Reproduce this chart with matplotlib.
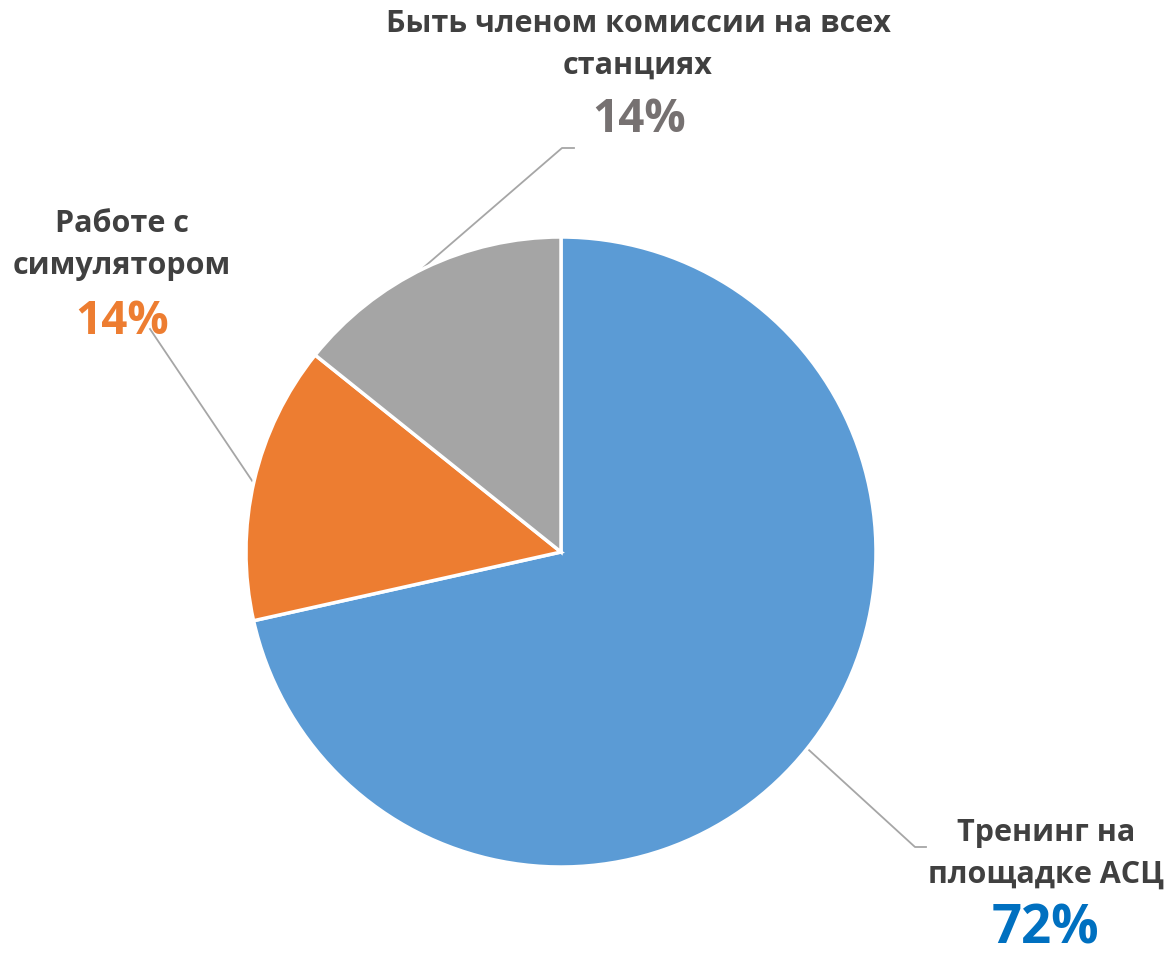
import numpy as np
import matplotlib
matplotlib.use("Agg")
import matplotlib.pyplot as plt

plt.rcParams["font.family"] = ["Open Sans", "DejaVu Sans"]

# ---------------- Data ----------------
categories = ["Тренинг на\nплощадке АСЦ", "Работе с\nсимулятором", "Быть членом комиссии на всех\nстанциях"]
shares = [71.5, 14.25, 14.25]          # slice sizes
pct_labels = ["72%", "14%", "14%"]     # labels as printed

# ---------------- Style ----------------
slice_colors = ["#5B9BD5", "#ED7D31", "#A5A5A5"]
pct_colors = ["#0070C0", "#ED7D31", "#767171"]
TEXT_COLOR = "#404040"
LEADER = "#A6A6A6"

# pixel geometry of the reference (center, radius)
W, H = 1168, 962
CX, CY, R = 561, 553, 315

def px(x, y):
    # pixel -> data coords (pie of radius 1 at origin)
    return (x - CX) / R, (CY - y) / R

fig = plt.figure(figsize=(W / 100, H / 100), dpi=100)
ax = fig.add_axes([0, 0, 1, 1])

ax.pie(shares, colors=slice_colors, startangle=90, counterclock=False,
       radius=1.0, wedgeprops=dict(edgecolor="white", linewidth=2.5))

x0, y0 = px(0, H)
x1, y1 = px(W, 0)
ax.set_xlim(x0, x1)
ax.set_ylim(y0, y1)
ax.set_aspect("auto")
ax.axis("off")

# label placement (pixel positions of text centres) and leader lines
label_pos = [(1046, 854), (122, 245), (638, 45)]
pct_pos = [(1045, 930), (122, 322), (639, 120)]
pct_size = [38, 33, 33]
leader_angles = [-38.6, 167.2, 115.8]
leader_elbow = [(915, 848), (150, 330), (562, 149)]
leader_end = [(926, 848), (150, 330), (574, 149)]

for i in range(3):
    lx, ly = px(*label_pos[i])
    ax.text(lx, ly, categories[i], ha="center", va="center", fontsize=22,
            fontweight="bold", color=TEXT_COLOR, linespacing=1.5)
    qx, qy = px(*pct_pos[i])
    ax.text(qx, qy, pct_labels[i], ha="center", va="center",
            fontsize=pct_size[i], fontweight="bold", color=pct_colors[i])
    a = np.deg2rad(leader_angles[i])
    sx, sy = 1.003 * np.cos(a), 1.003 * np.sin(a)
    ex, ey = px(*leader_elbow[i])
    fx, fy = px(*leader_end[i])
    ax.plot([sx, ex, fx], [sy, ey, fy], color=LEADER, linewidth=1.3, zorder=0.5)

fig.savefig("out.png", dpi=100, facecolor="white")
